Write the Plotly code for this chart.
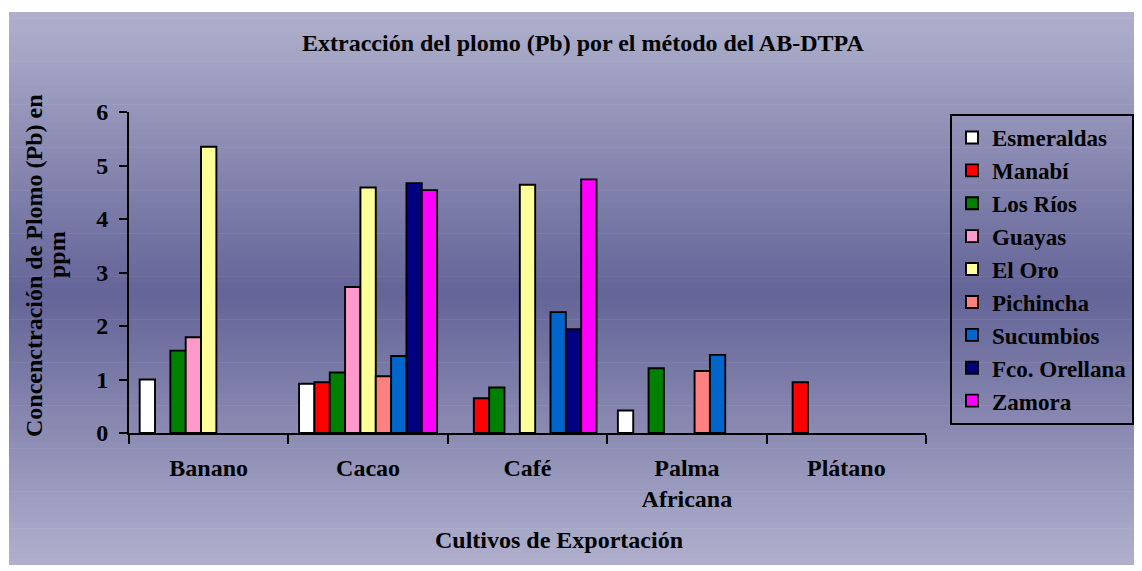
import plotly.graph_objects as go

# ---- data ----
cultivos = ["Banano", "Cacao", "Café", "Palma<br>Africana", "Plátano"]
provincias = ["Esmeraldas", "Manabí", "Los Ríos", "Guayas", "El Oro",
              "Pichincha", "Sucumbios", "Fco. Orellana", "Zamora"]
esmeraldas = [1.00, 0.92, None, 0.42, None]
manabi = [None, 0.95, 0.65, None, 0.95]
los_rios = [1.54, 1.13, 0.85, 1.21, None]
guayas = [1.79, 2.73, None, None, None]
el_oro = [5.35, 4.59, 4.64, None, None]
pichincha = [None, 1.06, None, 1.16, None]
sucumbios = [None, 1.44, 2.26, 1.46, None]
orellana = [None, 4.67, 1.94, None, None]
zamora = [None, 4.54, 4.74, None, None]
y_ticks = [0, 1, 2, 3, 4, 5, 6]

series = [esmeraldas, manabi, los_rios, guayas, el_oro,
          pichincha, sucumbios, orellana, zamora]
colores = ["#FFFFFF", "#FF0000", "#008000", "#FF99CC", "#FFFF99",
           "#FF8080", "#0066CC", "#000080", "#FF00FF"]

FONT = "Liberation Serif, Times New Roman, serif"
FS = 24
FS_LEG = 23

fig = go.Figure()
for name, vals, col in zip(provincias, series, colores):
    fig.add_trace(go.Bar(
        x=cultivos, y=vals, name=name, legendgroup=name,
        marker=dict(color=col, line=dict(color="black", width=1.9)),
    ))

# ---- geometry (pixels in the screenshot; the page body adds an 8px offset) ----
OFF = 8
W, H = 1142 - OFF, 571 - OFF
L, R, T, B = 129, 926, 112, 433
pw, ph = R - L, B - T


def px_x(p):
    return (p - L) / pw


def px_y(p):
    return (B - p) / ph


# gradient background panel
x0, x1, ytop, ybot = 9, 1150, 12, 565
ymid = 295
c_light = (176, 176, 205)
c_dark = (100, 100, 152)
n = 90
shapes = []
for k in range(n):
    a = ytop + (ybot - ytop) * k / n
    b = ytop + (ybot - ytop) * (k + 1) / n + 0.6
    yc = (a + b) / 2
    if yc <= ymid:
        t = (yc - ytop) / (ymid - ytop)
    else:
        t = (ybot - yc) / (ybot - ymid)
    c = tuple(round(c_light[j] + (c_dark[j] - c_light[j]) * t) for j in range(3))
    shapes.append(dict(type="rect", xref="paper", yref="paper",
                       x0=px_x(x0), x1=px_x(x1), y0=px_y(min(b, ybot)), y1=px_y(a),
                       fillcolor="rgb(%d,%d,%d)" % c, line=dict(width=0),
                       layer="below"))

bold = dict(family=FONT, size=FS, color="black", weight="bold")
bold_leg = dict(family=FONT, size=FS_LEG, color="black", weight="bold")

fig.update_layout(
    width=W, height=H,
    margin=dict(l=L - OFF, r=W - (R - OFF), t=T - OFF, b=H - (B - OFF), pad=0,
                autoexpand=False),
    paper_bgcolor="white",
    plot_bgcolor="rgba(0,0,0,0)",
    font=bold,
    barmode="group", bargap=0.134, bargroupgap=0,
    shapes=shapes,
    showlegend=True,
    legend=dict(
        x=px_x(950), y=px_y(114), xanchor="left", yanchor="top",
        bgcolor="rgba(0,0,0,0)", bordercolor="black", borderwidth=2,
        font=bold_leg, traceorder="grouped", tracegroupgap=0,
    ),
    annotations=[
        dict(text="Extracción del plomo (Pb) por el método del AB-DTPA",
             xref="paper", yref="paper", x=px_x(583), y=px_y(43),
             xanchor="center", yanchor="middle", showarrow=False, font=bold),
        dict(text="Cultivos de Exportación",
             xref="paper", yref="paper", x=px_x(559), y=px_y(540),
             xanchor="center", yanchor="middle", showarrow=False, font=bold),
        dict(text="Concenctración de Plomo (Pb) en",
             xref="paper", yref="paper", x=px_x(34), y=px_y(266),
             xanchor="center", yanchor="middle", showarrow=False,
             textangle=-90, font=bold),
        dict(text="ppm",
             xref="paper", yref="paper", x=px_x(57), y=px_y(255),
             xanchor="center", yanchor="middle", showarrow=False,
             textangle=-90, font=bold),
    ],
)

fig.update_xaxes(
    type="category", showline=True, linecolor="black", linewidth=2,
    ticks="outside", tickson="boundaries", ticklen=9, tickwidth=2,
    tickcolor="black", showgrid=False, zeroline=False,
    tickfont=bold, ticklabelstandoff=12,
)
fig.update_yaxes(
    range=[0, 6], tickvals=y_ticks, showline=True, linecolor="black",
    linewidth=2, ticks="outside", ticklen=8, tickwidth=2, tickcolor="black",
    showgrid=False, zeroline=False, tickfont=bold, ticklabelstandoff=6,
)

fig.write_html("out.html")
